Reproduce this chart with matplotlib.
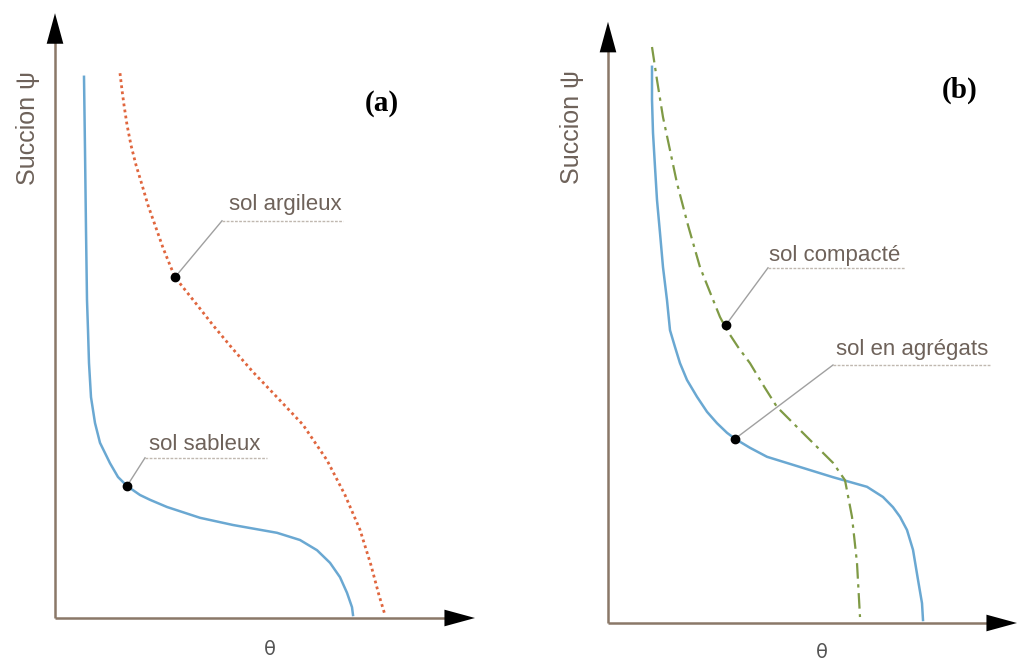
import matplotlib.pyplot as plt

# panel (a) : courbes de retention, sol sableux / sol argileux
theta_sable = [0.0725, 0.075, 0.0775, 0.08, 0.0825, 0.085, 0.09, 0.1, 0.1125, 0.1375, 0.1575,
               0.18, 0.2125, 0.2375, 0.28, 0.3625, 0.445, 0.555, 0.6125, 0.655, 0.6875,
               0.7125, 0.73, 0.7425, 0.745]
psi_sable = [0.902, 0.78, 0.647, 0.53, 0.48, 0.425, 0.368, 0.325, 0.292, 0.258, 0.235,
             0.22, 0.205, 0.197, 0.185, 0.167, 0.155, 0.142, 0.13, 0.113, 0.092,
             0.068, 0.042, 0.018, 0.005]

theta_argile = [0.1625, 0.1675, 0.1725, 0.18, 0.19, 0.2025, 0.2175, 0.2325, 0.25, 0.27,
                0.2875, 0.30, 0.325, 0.355, 0.395, 0.4425, 0.495, 0.555, 0.62, 0.68,
                0.725, 0.7625, 0.79, 0.81, 0.825]
psi_argile = [0.908, 0.88, 0.855, 0.822, 0.788, 0.755, 0.722, 0.688, 0.655, 0.617,
              0.588, 0.568, 0.547, 0.522, 0.488, 0.45, 0.41, 0.368, 0.322, 0.263,
              0.205, 0.147, 0.088, 0.038, 0.005]

# panel (b) : sol en agregats / sol compacte
theta_agreg = [0.11, 0.11, 0.1125, 0.1175, 0.1225, 0.13, 0.1375, 0.1475, 0.155, 0.1675,
               0.18, 0.1975, 0.2225, 0.2475, 0.2725, 0.2975, 0.3175, 0.355, 0.3975, 0.48,
               0.5625, 0.605, 0.6475, 0.6875, 0.7125, 0.73, 0.7475, 0.7625, 0.775, 0.785,
               0.7875]
psi_agreg = [0.927, 0.872, 0.817, 0.76, 0.705, 0.65, 0.593, 0.538, 0.488, 0.46,
             0.433, 0.405, 0.377, 0.352, 0.333, 0.317, 0.307, 0.292, 0.277, 0.26,
             0.243, 0.235, 0.227, 0.21, 0.193, 0.177, 0.155, 0.122, 0.072, 0.033,
             0.005]

theta_compact = [0.11, 0.1225, 0.1375, 0.155, 0.1725, 0.2, 0.23, 0.26, 0.28, 0.2975, 0.325,
                 0.355, 0.3875, 0.4225, 0.4975, 0.5625, 0.5925, 0.61, 0.6225, 0.63]
psi_compact = [0.96, 0.905, 0.843, 0.788, 0.733, 0.663, 0.593, 0.543, 0.51, 0.488, 0.46,
               0.433, 0.397, 0.36, 0.31, 0.267, 0.238, 0.177, 0.1, 0.01]

# annotations: (texte, point sur la courbe, coude, fin du trait, centre du texte)
notes_a = [("sol sableux", (0.18, 0.22), (0.225, 0.267), (0.53, 0.267), (0.375, 0.29)),
           ("sol argileux", (0.30, 0.568), (0.4175, 0.662), (0.72, 0.662), (0.575, 0.69))]
notes_b = [("sol compacté", (0.295, 0.497), (0.40, 0.592), (0.7425, 0.592), (0.5675, 0.613)),
           ("sol en agrégats", (0.3175, 0.307), (0.5625, 0.43), (0.955, 0.43), (0.76, 0.455))]

axis_col = '#8a7868'
text_col = '#6e625a'
blue = '#6aa8d2'

fig = plt.figure(figsize=(10.19, 6.63), dpi=100)
W, H = 1019.0, 663.0

def make_panel(x0, y0, xmax, ymax, ylab_x, ylab_y):
    # 400 px par unite en theta, 600 px par unite en psi
    ax = fig.add_axes([x0 / W, (H - y0) / H, 400 * xmax / W, 600 * ymax / H])
    ax.set_xlim(0, xmax)
    ax.set_ylim(0, ymax)
    ax.axis('off')
    ax.plot([0, xmax - 0.06], [0, 0], color=axis_col, lw=1.8, clip_on=False, solid_capstyle='butt')
    ax.plot([0, 0], [0, ymax - 0.04], color=axis_col, lw=1.8, clip_on=False, solid_capstyle='butt')
    head = dict(arrowstyle='-|>,head_length=1.1,head_width=0.3', mutation_scale=20,
                color='black', lw=0, shrinkA=0, shrinkB=0)
    ax.annotate('', xy=(xmax, 0), xytext=(xmax - 0.08, 0), annotation_clip=False, arrowprops=head)
    ax.annotate('', xy=(0, ymax), xytext=(0, ymax - 0.055), annotation_clip=False, arrowprops=head)
    ax.text(ylab_x, ylab_y, 'Succion \u03c8', rotation=90, ha='center', va='center',
            fontsize=18, color=text_col, family='Liberation Sans')
    return ax

def draw_notes(ax, notes):
    for label, pt, elbow, end, tpos in notes:
        ax.plot([pt[0], elbow[0]], [pt[1], elbow[1]], color='#a0a0a0', lw=1.0, zorder=2)
        ax.plot([elbow[0], end[0]], [elbow[1], end[1]], color='#c0b8b0', lw=1.0,
                ls=(0, (2, 1)), zorder=2)
        ax.plot(pt[0], pt[1], 'o', color='black', ms=6, zorder=5)
        ax.text(tpos[0], tpos[1], label, ha='center', va='center', fontsize=16,
                color=text_col, family='Liberation Sans')

# --- (a)
axa = make_panel(55, 618, 1.05, 1.008, -0.068, 0.817)
axa.plot(theta_sable, psi_sable, color=blue, lw=1.8)
axa.plot(theta_argile, psi_argile, color='#e0663e', lw=2.0, ls=(0, (1, 1.2)))
draw_notes(axa, notes_a)
axa.text(0.8175, 0.858, '(a)', fontsize=21, fontweight='bold', family='Liberation Serif',
         ha='center', va='center')
axa.text(0.5375, -0.053, '\u03b8', fontsize=14, color='#555555', ha='center', va='center')

# --- (b)
axb = make_panel(608, 623, 1.0225, 1.002, -0.09, 0.827)
axb.plot(theta_agreg, psi_agreg, color=blue, lw=1.8)
axb.plot(theta_compact, psi_compact, color='#7f9a45', lw=1.6, ls=(0, (7, 2.5, 1.5, 2.5)))
draw_notes(axb, notes_b)
axb.text(0.88, 0.888, '(b)', fontsize=21, fontweight='bold', family='Liberation Serif',
         ha='center', va='center')
axb.text(0.535, -0.05, '\u03b8', fontsize=14, color='#555555', ha='center', va='center')

fig.savefig('out.png', dpi=100, facecolor='white')
